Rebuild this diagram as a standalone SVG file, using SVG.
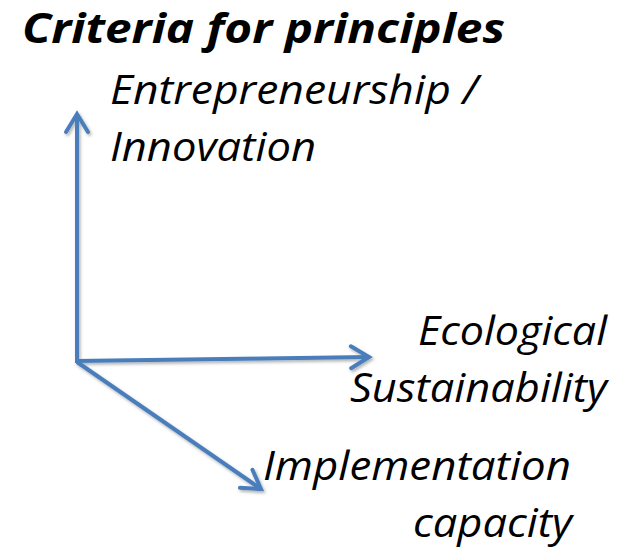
<svg xmlns="http://www.w3.org/2000/svg" width="629" height="551" viewBox="0 0 629 551">
  <style>
    .title { font-family: "Open Sans", "Liberation Sans", sans-serif; font-weight: bold; font-style: italic; font-size: 41px; fill: #000; }
    .label { font-family: "Open Sans", "Liberation Sans", sans-serif; font-style: italic; font-size: 40px; fill: #000; }
    .axis { stroke: #4A7EBB; stroke-width: 4; fill: none; stroke-linecap: butt; }
  </style>
  <defs>
    <marker id="open-arrow" viewBox="-22 -14 26 28" markerWidth="26" markerHeight="28" refX="0" refY="0" orient="auto" markerUnits="userSpaceOnUse">
      <path d="M -18,-11 L 0,0 L -18,11" fill="none" stroke="#4A7EBB" stroke-width="4" stroke-linejoin="miter" stroke-linecap="round"/>
    </marker>
    <filter id="shadow" x="-10%" y="-10%" width="130%" height="130%">
      <feDropShadow dx="1.5" dy="2" stdDeviation="1.5" flood-color="#000" flood-opacity="0.3"/>
    </filter>
  </defs>

  <g id="title">
    <text class="title" x="22" y="43" textLength="483" lengthAdjust="spacingAndGlyphs">Criteria for principles</text>
  </g>

  <g id="connectors" filter="url(#shadow)">
    <line class="axis" x1="77" y1="363" x2="77" y2="114" marker-end="url(#open-arrow)"/>
    <line class="axis" x1="75" y1="361" x2="369" y2="357" marker-end="url(#open-arrow)"/>
    <line class="axis" x1="77" y1="362" x2="261" y2="489" marker-end="url(#open-arrow)"/>
  </g>

  <g id="entrepreneurship">
    <text class="label" x="110" y="104" textLength="368" lengthAdjust="spacingAndGlyphs">Entrepreneurship /</text>
    <text class="label" x="110" y="161" textLength="206" lengthAdjust="spacingAndGlyphs">Innovation</text>
  </g>

  <g id="ecological">
    <text class="label" x="418" y="345" textLength="189" lengthAdjust="spacingAndGlyphs">Ecological</text>
    <text class="label" x="350" y="402" textLength="257" lengthAdjust="spacingAndGlyphs">Sustainability</text>
  </g>

  <g id="implementation">
    <text class="label" x="263" y="480" textLength="308" lengthAdjust="spacingAndGlyphs">Implementation</text>
    <text class="label" x="413" y="537" textLength="159" lengthAdjust="spacingAndGlyphs">capacity</text>
  </g>
</svg>
